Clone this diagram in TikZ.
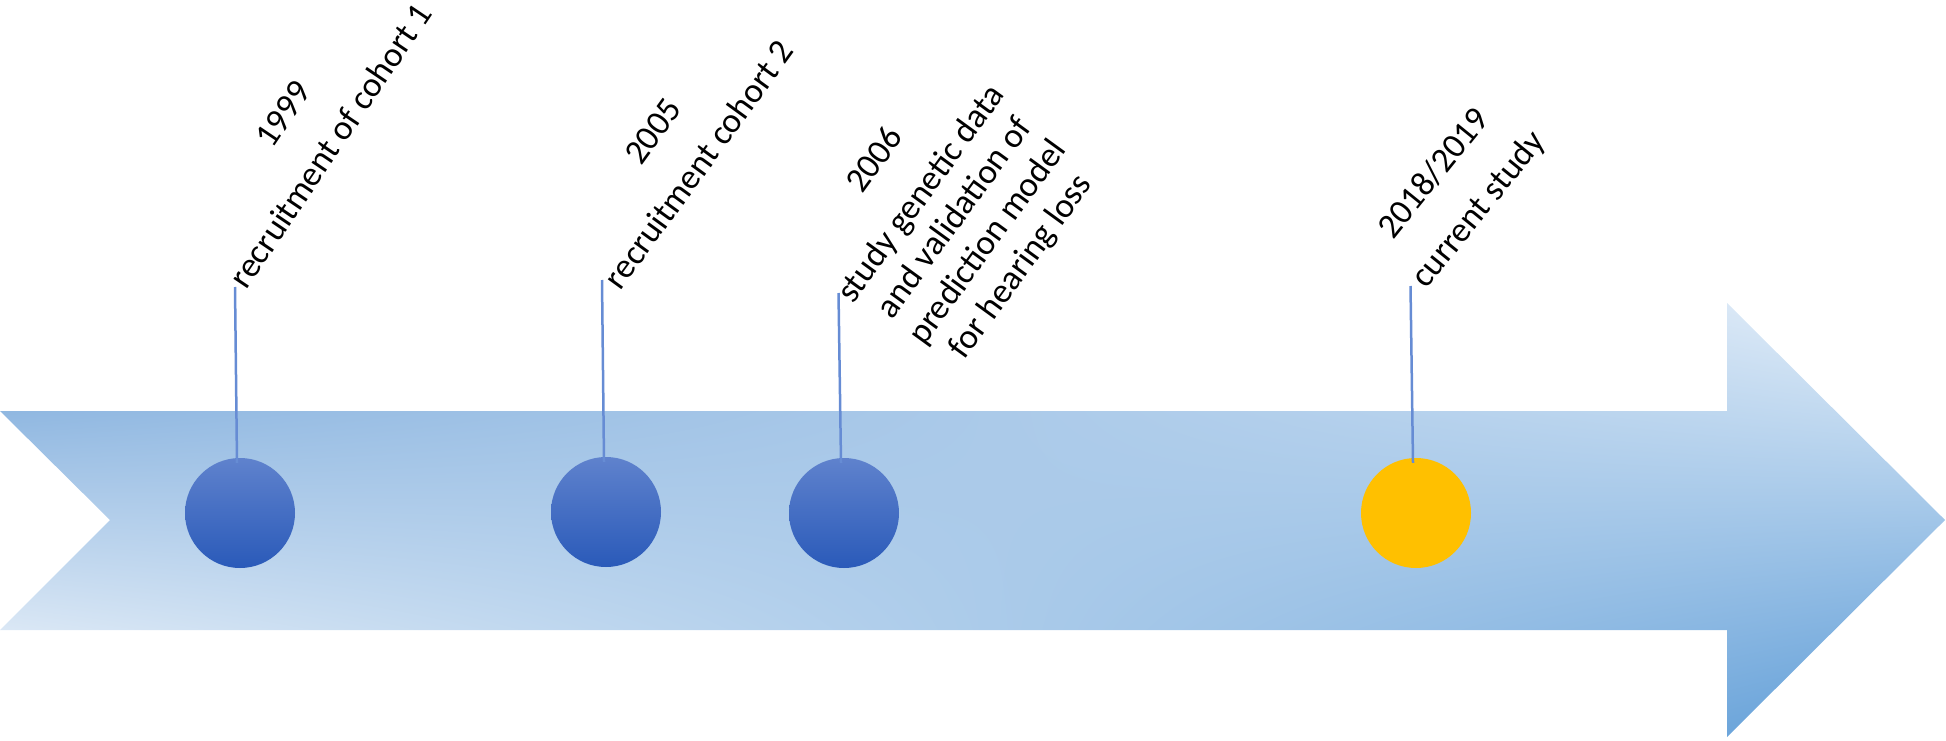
\documentclass[tikz,border=0pt]{standalone}
\usepackage{fontspec}
\setmainfont{Carlito}
\usetikzlibrary{calc}
\definecolor{dottop}{RGB}{95,130,205}
\definecolor{dotbot}{RGB}{42,90,185}
\definecolor{gold}{RGB}{255,192,0}
\definecolor{linec}{RGB}{102,140,212}
% bilinear blend: left edge dark-top/light-bottom, right edge light-top/dark-bottom
\pgfdeclarefunctionalshading{arrowshade}{\pgfpoint{0bp}{0bp}}{\pgfpoint{100bp}{100bp}}{}{
  25 sub 50 div exch 25 sub 50 div 1 exch sub exch
  dup -1.137 mul 0.647 add 2 index mul 1 index 0.557 mul add 0.353 add
  1 index -0.714 mul 0.396 add 3 index mul 2 index 0.341 mul add 0.604 add
  2 index -0.298 mul 0.161 add 4 index mul 3 index 0.141 mul add 0.839 add
  5 -2 roll pop pop
}
\begin{document}
\begin{tikzpicture}[x=1pt,y=-1pt,
  lbl/.style={align=center,font=\fontsize{35}{41}\selectfont,inner sep=0pt},
  dot/.style={circle,minimum size=110pt,inner sep=0pt},
  bluedot/.style={dot,top color=dottop,bottom color=dotbot},
  golddot/.style={dot,fill=gold},
  stem/.style={draw=linec,line width=2.5pt}]
\useasboundingbox (0,0) rectangle (1946,741);
% arrow
\shade[shading=arrowshade] (0,411) -- (1727,411) -- (1727,303) -- (1945,520) -- (1727,737) -- (1727,630) -- (0,630) -- (110,520) -- cycle;
% circles
\node[bluedot] (c1) at (240,513) {};
\node[bluedot] (c2) at (606,512) {};
\node[bluedot] (c3) at (844,513) {};
\node[golddot] (c4) at (1416,513) {};
% stems
\coordinate (s1) at (235,287);
\coordinate (s2) at (602,280);
\coordinate (s3) at (838.5,293);
\coordinate (s4) at (1410.5,286);
\draw[stem] (s1) -- ($(c1.north)+(-3,5)$);
\draw[stem] (s2) -- ($(c2.north)+(-2,5)$);
\draw[stem] (s3) -- ($(c3.north)+(-3,5)$);
\draw[stem] (s4) -- ($(c4.north)+(-3,5)$);
% labels
\node[lbl,rotate=56] (t1) at (307,130) {1999\\[16pt]recruitment of cohort 1};
\node[lbl,rotate=54] (t2) at (676,148) {2005\\[16pt]recruitment cohort 2};
\node[lbl,rotate=54] (t3) at (949,214) {2006\\[16pt]study genetic data\\and validation of\\prediction model\\for hearing loss};
\node[lbl,rotate=51] (t4) at (1457,192) {2018/2019\\[16pt]current study};
\end{tikzpicture}
\end{document}
